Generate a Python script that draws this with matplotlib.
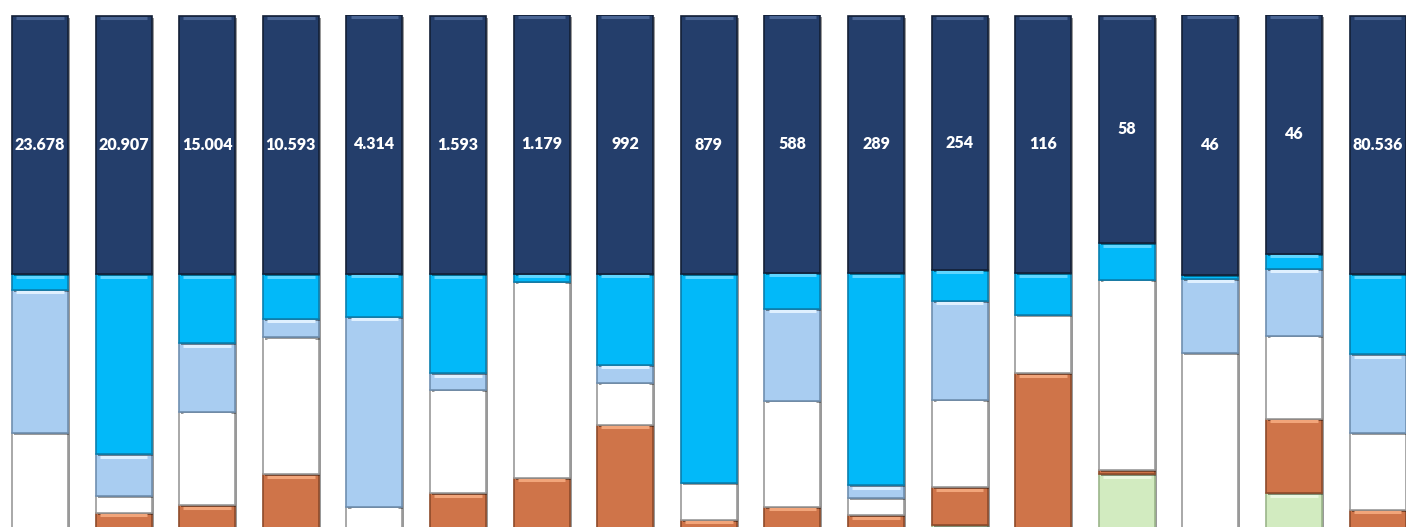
import numpy as np
import matplotlib.pyplot as plt
import matplotlib.patheffects as pe

# Shares per bar in percent (bottom series first)
labels = ['23.678', '20.907', '15.004', '10.593', '4.314', '1.593', '1.179', '992', '879',
          '588', '289', '254', '116', '58', '46', '46', '80.536']

green = [0, 0, 0, 0, 0, 0, 0, 0, 0, 0, 0, 3.0, 0, 12.7, 0, 9.1, 0]
orange = [0, 5.3, 6.8, 12.7, 0, 9.1, 12.0, 22.1, 4.0, 6.5, 4.9, 7.2, 31.9, 0.8, 0, 14.1, 5.9]
white = [20.5, 3.2, 17.7, 26.0, 6.5, 19.6, 37.3, 8.0, 7.0, 20.2, 3.2, 16.7, 11.0, 36.1, 35.7, 15.8, 14.6]
lightblue = [27.2, 8.0, 13.1, 3.6, 36.1, 3.2, 0, 3.4, 0, 17.5, 2.5, 18.8, 0, 0, 14.1, 12.7, 15.0]
cyan = [3.0, 34.2, 13.1, 8.4, 8.2, 18.8, 1.5, 17.3, 39.7, 6.8, 40.3, 5.9, 8.0, 7.0, 0.8, 2.9, 15.2]
navy = [49.2, 49.2, 49.2, 49.2, 49.2, 49.2, 49.2, 49.2, 49.2, 49.0, 49.0, 48.3, 49.0, 43.3, 49.4, 45.4, 49.2]

# fill, edge, top highlight
series = [
    (green, '#d2ebc0', '#9bb58a', '#eaf7e0'),
    (orange, '#cf7449', '#8e4a2a', '#f2a57a'),
    (white, '#ffffff', '#9a9a9a', '#ffffff'),
    (lightblue, '#a9cdf1', '#6f8fb0', '#dff0ff'),
    (cyan, '#02b9f9', '#0a7fae', '#5fd6ff'),
    (navy, '#243e6b', '#131f36', '#4a6594'),
]

fig = plt.figure(figsize=(14.06, 5.27), dpi=100)
# axes run below the bottom edge: the picture is cut there
ax = fig.add_axes([0, -14 / 527, 1, 526 / 527])

x = np.arange(len(labels))
width = 0.67
bottom = np.zeros(len(labels))
shadow = [pe.SimplePatchShadow(offset=(1.5, -1.5), shadow_rgbFace='#000000', alpha=0.4), pe.Normal()]
for vals, color, edge, hi in series:
    vals = np.array(vals)
    bars = ax.bar(x, vals, width=width, bottom=bottom, color=color,
                  edgecolor=edge, linewidth=1.2)
    for b, v in zip(bars, vals):
        if v > 0:
            b.set_path_effects(shadow)
    # bevel highlight just under the top edge of each segment
    top = bottom + vals
    m = vals > 0.8
    ax.hlines(top[m] - 0.45, x[m] - width / 2 + 0.05, x[m] + width / 2 - 0.05,
              color=hi, linewidth=2.2, zorder=3)
    bottom += vals

navy_bottom = bottom - np.array(navy)
for i, lab in enumerate(labels):
    ax.text(x[i], navy_bottom[i] + navy[i] / 2, lab, ha='center', va='center',
            color='white', fontsize=11.5, fontweight='heavy', family='Lato', zorder=4)

ax.set_xlim(-40 / 83.6, (1406 - 40) / 83.6)
ax.set_ylim(0, 100)
ax.axis('off')

fig.savefig('out.png', dpi=100)
